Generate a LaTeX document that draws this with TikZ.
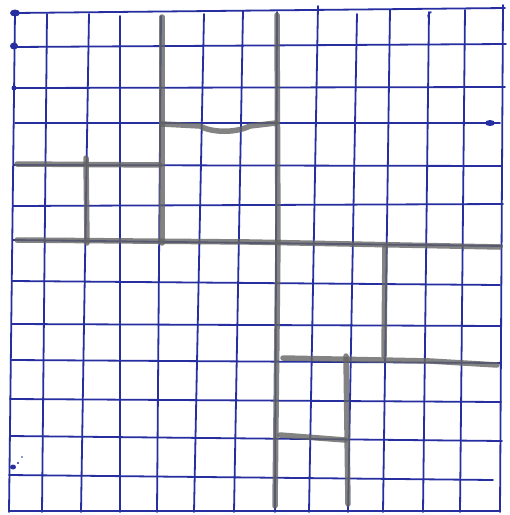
\documentclass[tikz,border=0pt]{standalone}
\definecolor{inkblue}{RGB}{38,46,160}
\definecolor{pencil}{RGB}{100,100,100}
\tikzset{
  gridline/.style={draw=inkblue, line width=1.8pt, line cap=round},
  pencilline/.style={draw=pencil, line width=5.5pt, line cap=round, opacity=0.8, line join=round},
  inkblob/.style={fill=inkblue}
}
\begin{document}
\begin{tikzpicture}[x=1pt,y=-1pt]
\useasboundingbox[fill=white] (0,0) rectangle (510,515);
% horizontal grid lines
\foreach \xl/\yl/\xr/\yr in {15/13/505/8, 13/47/506/44, 14/88/505/87, 15/123/500/123,
  14/165/502/166, 13/206/503/204, 13/240/502/246, 12/281/500/285, 12/324/501/326,
  11/360/500/363, 10/399/501/402, 10/436/502/441, 9/475/493/480, 9/511/500/511}
  \draw[gridline] (\xl,\yl) -- (\xr,\yr);
% vertical grid lines
\foreach \xt/\yt/\xb in {15/12/9, 47/14/42, 89/14/81, 120/16/120, 161/16/157, 204/14/194,
  243/11/234, 277/12/275, 318/6/309, 357/14/348, 390/10/383, 429/12/423, 465/10/460, 503/5/500}
  \draw[gridline] (\xt,\yt) -- (\xb,512);
% pencil lines
\draw[pencilline] (162,17) -- (162,243);
\draw[pencilline] (162,124) -- (200,126) .. controls (212,133) and (236,133) .. (250,126) -- (276,123);
\draw[pencilline] (277,15) -- (278,240) -- (275,506);
\draw[pencilline] (17,164) -- (160,165);
\draw[pencilline] (86,158) -- (87,243);
\draw[pencilline] (17,240) -- (250,242) -- (500,247);
\draw[pencilline] (385,247) -- (384,356);
\draw[pencilline] (283,358) -- (430,361) -- (497,365);
\draw[pencilline] (346,356) -- (348,504);
\draw[pencilline] (280,435) -- (345,440);
% ink marks
\fill[inkblob] (15,13) ellipse (5 and 3.5);
\fill[inkblob] (14,46) ellipse (4 and 3.5);
\fill[inkblob] (14,88) ellipse (2.5 and 2.5);
\fill[inkblob] (490,123) ellipse (5 and 3);
\draw[gridline, line width=1.5pt] (431,12) .. controls (427,14) and (428,17) .. (429,20);
\fill[inkblob] (13,467) ellipse (3 and 2.5);
\fill[inkblob] (18,463) circle (1.2);
\fill[inkblob] (22,457) circle (0.8);
\end{tikzpicture}
\end{document}
